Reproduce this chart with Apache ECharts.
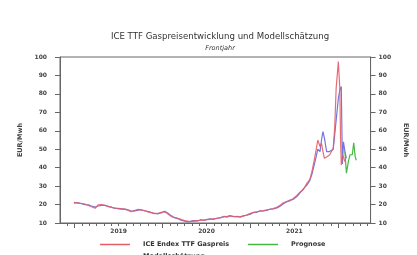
<!DOCTYPE html>
<html><head><meta charset="utf-8">
<script src="https://cdn.jsdelivr.net/npm/echarts@6/dist/echarts.min.js"></script>
<style>html,body{margin:0;padding:0;background:#fff}#c{width:417px;height:255px}</style>
</head><body><div id="c"></div>
<script>
// x values are months counted from Jan 2018 (12 = Jan 2019, 24 = Jan 2020, ...)
var sharedMonths = [11.9,12.5,13.4,13.9,14.3,14.8,15.2,15.7,16.2,16.6,17.0,17.4,18.0,18.4,18.9,19.3,19.7,20.1,20.7,21.1,21.6,22.0,22.4,22.8,23.4,23.8,24.3,24.7,25.1,25.5,26.1,26.5,27.0,27.4,27.8,28.2,28.8,29.2,29.7,30.1,30.5,30.9,31.5,31.9,32.4,32.8,33.2,33.7,34.2,34.6,35.1,35.5,36.0,36.4,36.9,37.3,37.8,38.3,38.7,39.1,39.6,40.0,40.5,41.0,41.4,41.8,42.3,42.7,43.2,43.7,44.1,44.4,44.8];
var redSharedValues = [21.2,20.8,20.3,19.5,18.8,18.0,19.8,20.0,19.4,19.0,18.5,18.2,17.6,17.8,17.4,16.8,16.1,16.8,17.4,17.0,16.7,16.0,15.6,15.4,15.2,15.8,16.1,15.0,13.8,13.0,12.5,12.0,11.3,11.0,10.7,11.0,11.3,11.5,11.6,11.8,12.0,12.2,12.5,13.0,13.4,13.6,13.8,13.6,13.4,13.5,13.8,14.4,15.2,15.6,16.1,16.4,16.7,17.2,17.4,17.8,18.5,19.5,21.0,21.8,22.0,23.2,24.8,26.5,28.0,31.5,33.5,38,46];
var blueSharedValues = [20.8,21.0,20.0,19.8,19.2,18.6,19.2,19.6,19.6,18.8,18.7,18.0,17.9,17.5,17.6,17.2,16.5,16.4,17.0,17.2,16.5,16.3,15.8,15.2,15.0,15.5,16.3,15.4,14.2,13.2,12.4,11.5,11.0,10.6,10.9,11.3,11.1,11.8,11.4,12.0,12.3,12.0,12.7,12.8,13.6,13.2,14.0,13.4,13.6,13.2,14.0,14.2,14.8,15.8,15.8,16.6,16.5,17.0,17.6,17.6,18.2,19.0,20.4,21.5,22.4,22.8,24.2,26.0,28.4,30.5,33.0,36.5,43];
var redTailMonths = [45.2,45.5,45.7,45.9,46.1,46.5,46.8,47.3,47.5,47.7,48.0,48.2,48.3,48.4,48.6,48.9];
var redTailValues = [55,51.4,53.2,48.7,45.1,46.0,46.9,50.5,61.4,83,97.5,83,56,41.5,46.9,43.2];
var blueTailMonths = [45.2,45.5,45.7,45.9,46.1,46.4,46.8,47.3,47.5,48.0,48.2,48.4,48.55,48.7,48.9,49.1];
var blueTailValues = [50,48.7,55,59.5,56,48.7,48.7,50,57.7,77.6,82,84,42,54,48.7,45];
var greenMonths = [48.9,49.1,49.4,49.6,49.9,50.1,50.3,50.45];
var greenValues = [48.7,37,44,47,47,53.5,46,44];
var yearLabelMonths = [18,30,42];
var yearStartMonths = [12,24,36,48];
var seriesNames = ['ICE Endex TTF Gaspreis','Prognose','Modellschätzung'];
var titleText = 'ICE TTF Gaspreisentwicklung und Modellschätzung';
var subtitleText = 'Frontjahr';
var yName = 'EUR/Mwh';

function zip(xs, ys){ return xs.map(function(x,i){ return [x, ys[i]]; }); }
var redData = zip(sharedMonths.concat(redTailMonths), redSharedValues.concat(redTailValues));
var blueData = zip(sharedMonths.concat(blueTailMonths), blueSharedValues.concat(blueTailValues));
var greenData = zip(greenMonths, greenValues);

var F = 'DejaVu Sans';
var axisCol = '#666';
var lbl = {fontFamily:F, fontSize:6, fontWeight:'bold', color:'#444'};
var chart = echarts.init(document.getElementById('c'), null, {renderer:'canvas'});
function legend(name, left, top){
  return {data:[name], left:left, top:top, orient:'horizontal', icon:'rect', itemWidth:30, itemHeight:1.5,
    padding:0, textStyle:{fontFamily:F, fontSize:6.5, fontWeight:'bold', color:'#333', padding:[0,0,0,8]}};
}
chart.setOption({
  animation:false,
  backgroundColor:'#fff',
  title:{text:titleText, subtext:subtitleText, left:215, top:27, textAlign:'center', itemGap:4,
    textStyle:{fontFamily:F, fontSize:8.6, fontWeight:'normal', color:'#333'},
    subtextStyle:{fontFamily:F, fontSize:6.5, fontStyle:'italic', color:'#333'}},
  legend:[legend(seriesNames[0],100,241), legend(seriesNames[1],248,241), legend(seriesNames[2],100,253)],
  grid:{left:60, right:44, top:57, bottom:32, show:true, borderColor:axisCol, borderWidth:1, containLabel:false},
  xAxis:[
    {type:'value', min:10, max:52.4, interval:1, position:'bottom',
     axisLine:{show:true, lineStyle:{color:axisCol}},
     axisTick:{show:true, length:3, lineStyle:{color:axisCol}},
     splitLine:{show:false},
     axisLabel:Object.assign({margin:5, showMinLabel:false, showMaxLabel:false, formatter:function(v){
        return yearLabelMonths.indexOf(Math.round(v))>=0 ? String(2018+Math.floor(Math.round(v)/12)) : '';
     }}, lbl)},
    {type:'value', min:10, max:52.4, position:'bottom', gridIndex:0,
     axisLine:{show:false}, splitLine:{show:false}, axisLabel:{show:false},
     axisTick:{show:true, length:5, customValues:yearStartMonths, lineStyle:{color:axisCol}}}
  ],
  yAxis:[
    {type:'value', min:10, max:100, interval:10, position:'left',
     name:yName, nameLocation:'middle', nameGap:29, nameRotate:90,
     nameTextStyle:{fontFamily:F, fontSize:6.5, fontWeight:'bold', color:'#444'},
     axisLine:{show:true, lineStyle:{color:axisCol}},
     axisTick:{show:true, length:5, lineStyle:{color:axisCol}},
     splitLine:{show:false}, axisLabel:Object.assign({margin:13}, lbl)},
    {type:'value', min:10, max:100, interval:10, position:'right',
     name:yName, nameLocation:'middle', nameGap:27, nameRotate:-90,
     nameTextStyle:{fontFamily:F, fontSize:6.5, fontWeight:'bold', color:'#444'},
     axisLine:{show:true, lineStyle:{color:axisCol}},
     axisTick:{show:true, length:5, lineStyle:{color:axisCol}},
     splitLine:{show:false}, axisLabel:Object.assign({margin:8}, lbl)}
  ],
  series:[
    {name:seriesNames[0], type:'line', data:redData, showSymbol:false, lineStyle:{width:1.2, color:'#e35d67', opacity:0.9}, itemStyle:{color:'#e35d67'}, z:3},
    {name:seriesNames[1], type:'line', data:greenData, showSymbol:false, lineStyle:{width:1.2, color:'#45b845'}, itemStyle:{color:'#45b845'}, z:3},
    {name:seriesNames[2], type:'line', data:blueData, showSymbol:false, lineStyle:{width:1.2, color:'#6566dc', opacity:0.9}, itemStyle:{color:'#6566dc'}, z:2}
  ]
});
</script></body></html>
